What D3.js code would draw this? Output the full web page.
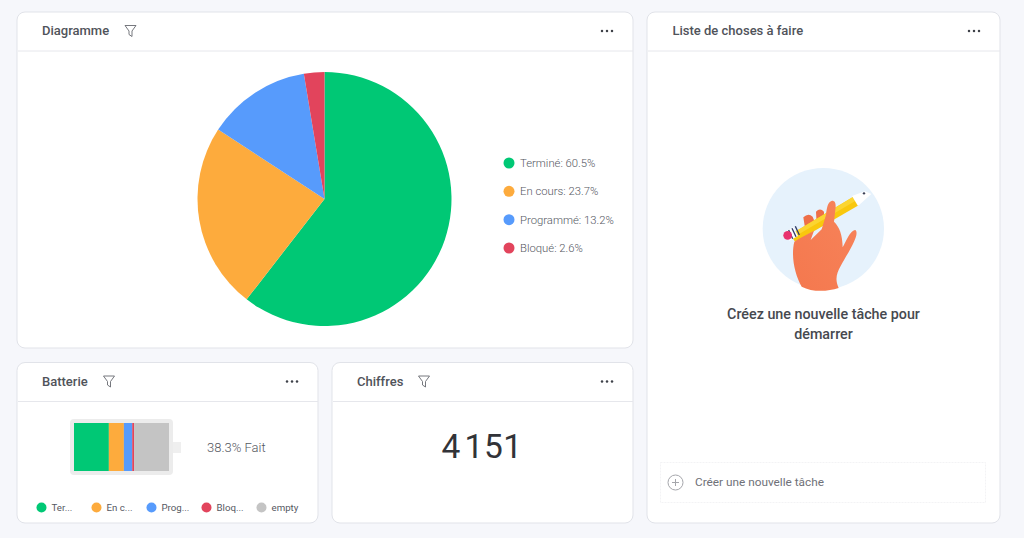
<!DOCTYPE html>
<html>
<head>
<meta charset="utf-8">
<script src="https://cdn.jsdelivr.net/npm/d3@7"></script>
<style>
html, body { margin: 0; padding: 0; background: #f6f7fb; overflow: hidden; }
svg { display: block; font-family: Roboto, sans-serif; }
</style>
</head>
<body>
<div id="chart"></div>
<script>
var categories = ['Terminé', 'En cours', 'Programmé', 'Bloqué']
var pieValues = [60.5, 23.7, 13.2, 2.6]
var colors = ['#00c875', '#fdab3d', '#579bfc', '#e2445c']

var batteryNames = ['Terminé', 'En cours', 'Programmé', 'Bloqué', 'empty']
var batteryValues = [36.7, 15.8, 8.8, 2, 36.7]
var batteryColors = ['#00c875', '#fdab3d', '#579bfc', '#e2445c', '#c4c4c4']
var batteryLegend = ['Ter...', 'En c...', 'Prog...', 'Bloq...', 'empty']
var batteryLabel = '38.3% Fait'
var total = '4 151'

var width = 1024
var height = 538

var svg = d3.select('#chart').append('svg')
    .attr('width', width)
    .attr('height', height)

var hand = svg.append('defs').append('linearGradient')
    .attr('id', 'hand')
    .attr('x1', 0).attr('x2', 1).attr('y1', 1).attr('y2', 0)
hand.append('stop').attr('offset', '0%').attr('stop-color', '#f4784e')
hand.append('stop').attr('offset', '100%').attr('stop-color', '#f7835a')

function card(x, y, w, h, title, titleX, funnelX) {
    var g = svg.append('g').attr('transform', 'translate(' + x + ',' + y + ')')
    g.append('rect')
        .attr('width', w).attr('height', h)
        .attr('rx', 8)
        .attr('fill', '#fff')
        .attr('stroke', '#e1e3e9')
    g.append('line')
        .attr('x1', 1).attr('x2', w)
        .attr('y1', 39).attr('y2', 39)
        .attr('stroke', '#e6e7ec')
    g.append('text')
        .attr('x', titleX).attr('y', 23)
        .attr('font-size', 13)
        .attr('font-weight', 500)
        .attr('fill', '#50535a')
        .text(title)
    if (funnelX) {
        g.append('path')
            .attr('transform', 'translate(' + funnelX + ',13)')
            .attr('d', 'M0.5 0.5H11.5L7.5 6V11.5L4.5 9.5V6Z')
            .attr('fill', 'none')
            .attr('stroke', '#66696f')
            .attr('stroke-width', 0.9)
    }
    // three dots menu
    g.selectAll('circle.dot').data([-5, 0, 5]).enter().append('circle')
        .attr('class', 'dot')
        .attr('cx', d => w - 26 + d)
        .attr('cy', 19)
        .attr('r', 1.25)
        .attr('fill', '#3f4249')
    return g
}

card(17, 12, 616, 336, 'Diagramme', 25, 107.5)
card(17, 362.5, 301, 160.5, 'Batterie', 25, 86)
card(332, 362.5, 301, 160.5, 'Chiffres', 25, 86)
card(647, 12, 353, 511, 'Liste de choses à faire', 25.5, 0)

// pie
var pie = d3.pie().sort(null).value(d => d)
var arc = d3.arc().innerRadius(0).outerRadius(127)
var colorScale = d3.scaleOrdinal().domain(categories).range(colors)

svg.append('g')
    .attr('transform', 'translate(324.5,199)')
    .selectAll('path')
    .data(pie(pieValues))
    .enter().append('path')
    .attr('d', arc)
    .attr('fill', (d, i) => colorScale(categories[i]))

var legendY = d3.scalePoint().domain(categories).range([163, 248])
var pieLegend = svg.append('g').selectAll('g')
    .data(categories)
    .enter().append('g')
    .attr('transform', d => 'translate(509,' + legendY(d) + ')')
pieLegend.append('circle')
    .attr('r', 5.5)
    .attr('fill', d => colorScale(d))
pieLegend.append('text')
    .attr('x', 11)
    .attr('y', 4)
    .attr('font-size', 11.3)
    .attr('font-weight', 300)
    .attr('fill', '#55585f')
    .text((d, i) => d + ': ' + pieValues[i] + '%')

// battery
var batteryX = d3.scaleLinear().domain([0, d3.sum(batteryValues)]).range([74, 169])
var stacked = d3.cumsum(batteryValues)

svg.append('rect')
    .attr('x', 70).attr('y', 419)
    .attr('width', 103).attr('height', 56)
    .attr('rx', 4)
    .attr('fill', '#ececec')
svg.append('rect')
    .attr('x', 173).attr('y', 442)
    .attr('width', 8).attr('height', 11)
    .attr('fill', '#efefef')
svg.append('g').selectAll('rect')
    .data(batteryValues)
    .enter().append('rect')
    .attr('x', (d, i) => batteryX(stacked[i] - d))
    .attr('y', 423)
    .attr('width', d => batteryX(d) - batteryX(0))
    .attr('height', 48)
    .attr('fill', (d, i) => batteryColors[i])

svg.append('text')
    .attr('x', 207).attr('y', 452)
    .attr('font-size', 13)
    .attr('font-weight', 300)
    .attr('fill', '#55585f')
    .text(batteryLabel)

var batteryLegendX = d3.scalePoint().domain(batteryNames).range([41.5, 261.5])
var batteryItems = svg.append('g').selectAll('g')
    .data(batteryNames)
    .enter().append('g')
    .attr('transform', d => 'translate(' + batteryLegendX(d) + ',507.5)')
batteryItems.append('circle')
    .attr('r', 5)
    .attr('fill', (d, i) => batteryColors[i])
batteryItems.append('text')
    .attr('x', 10)
    .attr('y', 3.5)
    .attr('font-size', 9.7)
    .attr('fill', '#55585f')
    .text((d, i) => batteryLegend[i])

// number
svg.append('text')
    .attr('x', 482).attr('y', 458)
    .attr('text-anchor', 'middle')
    .attr('font-size', 33.5)
    .attr('letter-spacing', 0.5)
    .attr('word-spacing', -5)
    .attr('fill', '#323338')
    .text(total)

// illustration, drawn in the coordinates of a 3x crop
var art = svg.append('g').attr('transform', 'translate(740,160) scale(0.3333)')
art.append('circle').attr('cx', 250).attr('cy', 206).attr('r', 182).attr('fill', '#e6f2fc')
art.append('path')
    .attr('d', 'M190 172Q205 158 218 170L228 195L196 210ZM228 155Q240 142 252 155L252 185L230 192Z')
    .attr('fill', '#ee6f48')
art.append('path')
    .attr('d', 'M150 224L340 110L356 136L166 246Z')
    .attr('fill', '#f9c80e')
art.append('path')
    .attr('d', 'M150 224L340 110L347 122L157 234Z')
    .attr('fill', '#fbd531')
art.append('path')
    .attr('d', 'M136 215L160 201L174 228L148 242Z')
    .attr('fill', '#fff')
art.selectAll('path.band').data([0, 10, 20]).enter().append('path')
    .attr('class', 'band')
    .attr('d', d => 'M' + (146 + d) + ' ' + (210 - d * 0.55) + 'L' + (158 + d) + ' ' + (236 - d * 0.55))
    .attr('stroke', '#2d3a66')
    .attr('stroke-width', 4)
art.append('circle').attr('cx', 143).attr('cy', 226).attr('r', 13).attr('fill', '#e8336f')
art.append('path')
    .attr('d', 'M336 108L375 94L394 102L354 138Z')
    .attr('fill', '#fff')
art.append('circle').attr('cx', 372).attr('cy', 100).attr('r', 3.5).attr('fill', '#3a3f55')
art.append('path')
    .attr('d', 'M185 380C165 345 152 290 163 245C180 232 205 222 222 212L212 240L245 208L258 165C260 145 263 125 276 122C288 122 288 135 286 150L282 185C298 200 308 225 308 262C318 245 330 212 345 210C353 212 350 230 342 245C332 268 318 288 302 318C290 340 284 358 296 384C260 396 215 396 185 380Z')
    .attr('fill', 'url(#hand)')

svg.append('text')
    .attr('text-anchor', 'middle')
    .attr('font-size', 14.3)
    .attr('font-weight', 500)
    .attr('fill', '#46494f')
    .selectAll('tspan')
    .data(['Créez une nouvelle tâche pour', 'démarrer'])
    .enter().append('tspan')
    .attr('x', 823.5)
    .attr('y', (d, i) => 319 + i * 20)
    .text(d => d)

// new task input
svg.append('rect')
    .attr('x', 660.5).attr('y', 462.5)
    .attr('width', 325).attr('height', 40)
    .attr('fill', 'none')
    .attr('stroke', '#f3f3f5')
    .attr('stroke-dasharray', '2 1')
svg.append('circle')
    .attr('cx', 675.5).attr('cy', 482.5).attr('r', 7.5)
    .attr('fill', 'none')
    .attr('stroke', '#a5a6ab')
svg.append('path')
    .attr('d', 'M672 482.5H679M675.5 479V486')
    .attr('stroke', '#a5a6ab')
svg.append('text')
    .attr('x', 695).attr('y', 486)
    .attr('font-size', 11.8)
    .attr('fill', '#6f7178')
    .text('Créer une nouvelle tâche')
</script>
</body>
</html>
